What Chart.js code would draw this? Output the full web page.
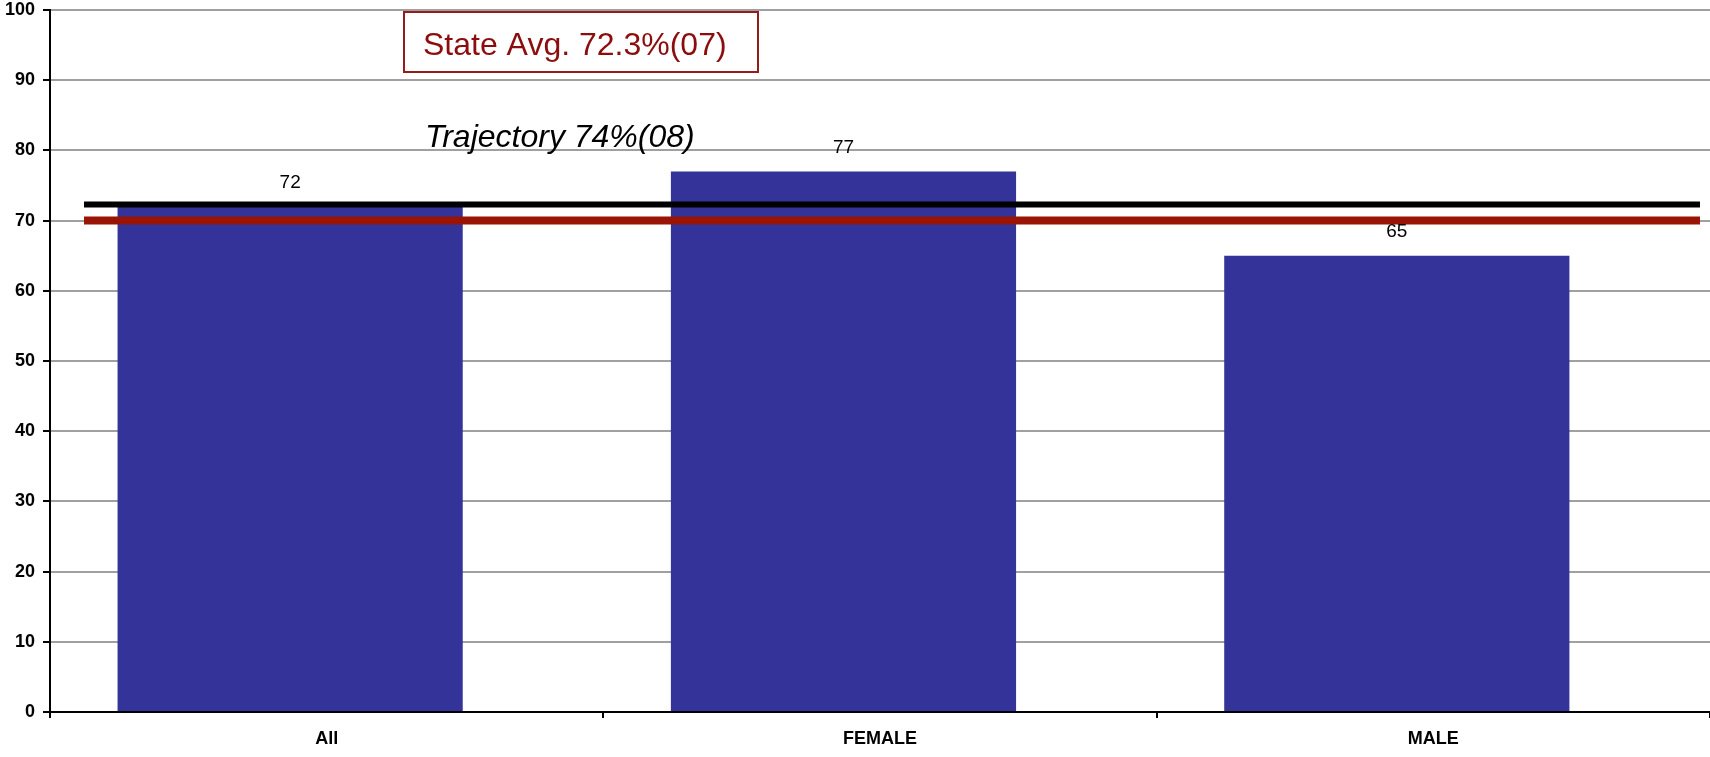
<!DOCTYPE html>
<html>
<head>
<meta charset="utf-8">
<title>Rates by gender</title>
<script src="https://cdn.jsdelivr.net/npm/chart.js@4.4.1/dist/chart.umd.min.js"></script>
<style>
    html, body { margin: 0; padding: 0; background: #fff; }
    #wrap { width: 1710px; height: 757px; }
</style>
</head>
<body>
<div id="wrap"><canvas id="rate-chart"></canvas></div>
<script>
// Chart data
// ------------------------------
var categories = ["All", "FEMALE", "MALE"];
var rates = [72, 77, 65];
// empty second series - the original sheet had one, it pushes the bars left of centre
var emptySeries = [null, null, null];
var yMin = 0, yMax = 100, yStep = 10;

// reference lines and their captions
var stateAvg = 72.3;
var trajectory = 70;
var stateAvgLabel = "State Avg. 72.3%(07)";
var trajectoryLabel = "Trajectory 74%(08)";

var fontName = '"Liberation Sans", Arial, sans-serif';

// Reference lines + caption boxes
var refLines = {
    id: 'refLines',
    afterDatasetsDraw: function(chart) {
        var ctx = chart.ctx;
        var y = chart.scales.y;
        var area = chart.chartArea;
        var x0 = area.left + 34, x1 = area.right - 10;

        ctx.save();
        // trajectory (red)
        ctx.strokeStyle = '#9a1405';
        ctx.lineWidth = 8;
        ctx.beginPath();
        ctx.moveTo(x0, y.getPixelForValue(trajectory));
        ctx.lineTo(x1, y.getPixelForValue(trajectory));
        ctx.stroke();
        // state average (black)
        ctx.strokeStyle = '#000';
        ctx.lineWidth = 6;
        ctx.beginPath();
        ctx.moveTo(x0, y.getPixelForValue(stateAvg));
        ctx.lineTo(x1, y.getPixelForValue(stateAvg));
        ctx.stroke();

        // state avg caption in a box
        ctx.lineWidth = 2;
        ctx.strokeStyle = '#961c1c';
        ctx.strokeRect(area.left + 354, area.top + 2, 354, 60);
        ctx.fillStyle = '#8c0d0d';
        ctx.font = '32px ' + fontName;
        ctx.textAlign = 'left';
        ctx.textBaseline = 'alphabetic';
        ctx.fillText(stateAvgLabel, area.left + 373, area.top + 45);

        // trajectory caption
        ctx.fillStyle = '#000';
        ctx.font = 'italic 32px ' + fontName;
        ctx.fillText(trajectoryLabel, area.left + 375, area.top + 137);
        ctx.restore();
    }
};

// Value labels over the bars
var valueLabels = {
    id: 'valueLabels',
    afterDatasetsDraw: function(chart) {
        var ctx = chart.ctx;
        var meta = chart.getDatasetMeta(0);
        ctx.save();
        ctx.fillStyle = '#000';
        ctx.font = '19px ' + fontName;
        ctx.textAlign = 'center';
        ctx.textBaseline = 'middle';
        meta.data.forEach(function(bar, i) {
            ctx.fillText(rates[i], bar.x, bar.y - 24);
        });
        ctx.restore();
    }
};

var chartData = {
    labels: categories,
    datasets: [{
        label: "Rate",
        data: rates,
        backgroundColor: '#333399',
        borderWidth: 0
    }, {
        label: "",
        data: emptySeries,
        backgroundColor: '#993366'
    }]
};

var chartOptions = {
    responsive: true,
    maintainAspectRatio: false,
    animation: false,
    layout: { padding: { top: 10, left: 0, right: 0, bottom: 0 } },
    categoryPercentage: 0.264,
    barPercentage: 4.726,
    plugins: {
        legend: { display: false },
        tooltip: { enabled: false }
    },
    scales: {
        x: {
            offset: true,
            grid: {
                offset: true,
                drawOnChartArea: false,
                drawTicks: true,
                tickLength: 6,
                tickColor: '#000',
                lineWidth: 2
            },
            border: { color: '#000', width: 2 },
            ticks: {
                color: '#000',
                font: { family: fontName, size: 18, weight: 'bold' },
                padding: 10,
                maxRotation: 0
            },
            afterFit: function(scale) {
                scale.height = 45;
                scale.paddingLeft = 0;
                scale.paddingRight = 0;
            }
        },
        y: {
            min: yMin,
            max: yMax,
            grid: {
                color: '#a0a0a0',
                lineWidth: 2,
                tickLength: 7,
                tickColor: '#000'
            },
            border: { color: '#000', width: 2 },
            ticks: {
                stepSize: yStep,
                color: '#000',
                font: { family: fontName, size: 18, weight: 'bold' },
                padding: 8
            },
            afterFit: function(scale) {
                scale.width = 50;
                scale.paddingTop = 0;
                scale.paddingBottom = 0;
            }
        }
    }
};

var rateChart = new Chart(document.getElementById('rate-chart'), {
    type: 'bar',
    data: chartData,
    options: chartOptions,
    plugins: [refLines, valueLabels]
});
</script>
</body>
</html>
